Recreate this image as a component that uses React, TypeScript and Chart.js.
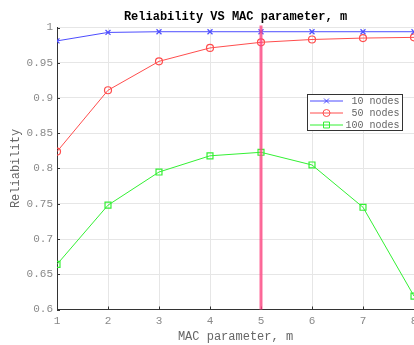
import React, { useEffect, useRef } from "react";
import { Chart, registerables } from "chart.js";

Chart.register(...registerables);

const mValues = [1, 2, 3, 4, 5, 6, 7, 8];
const nodes10 = [0.981, 0.993, 0.994, 0.994, 0.994, 0.994, 0.994, 0.994];
const nodes50 = [0.824, 0.911, 0.952, 0.971, 0.979, 0.983, 0.985, 0.986];
const nodes100 = [0.664, 0.748, 0.795, 0.818, 0.823, 0.805, 0.745, 0.619];
const seriesLabels = ["10 nodes", "50 nodes", "100 nodes"];
const markerM = 5;
const titleText = "Reliability VS MAC parameter, m";
const xTitle = "MAC parameter, m";
const yTitle = "Reliability";

const FONT = "'Liberation Mono', 'DejaVu Sans Mono', monospace";

function drawMarker(ctx: CanvasRenderingContext2D, style: string, r: number, x: number, y: number, color: string) {
  ctx.strokeStyle = color;
  ctx.beginPath();
  if (style === "crossRot") {
    const o = r * Math.SQRT1_2;
    ctx.moveTo(x - o, y - o);
    ctx.lineTo(x + o, y + o);
    ctx.moveTo(x - o, y + o);
    ctx.lineTo(x + o, y - o);
  } else if (style === "circle") {
    ctx.arc(x, y, r, 0, Math.PI * 2);
  } else {
    const s = r * Math.SQRT1_2;
    ctx.rect(x - s, y - s, 2 * s, 2 * s);
  }
  ctx.stroke();
}

const extrasPlugin = {
  id: "extras",
  afterDatasetsDraw(chart: any) {
    const { ctx, chartArea, scales } = chart;
    const xs = scales.x;
    const ys = scales.y;
    ctx.save();
    // inward ticks
    ctx.strokeStyle = "#333";
    ctx.lineWidth = 1;
    ctx.beginPath();
    xs.ticks.forEach((t: any) => {
      const px = Math.round(xs.getPixelForValue(t.value)) + 0.5;
      ctx.moveTo(px, chartArea.bottom);
      ctx.lineTo(px, chartArea.bottom - 3);
    });
    ys.ticks.forEach((t: any) => {
      const py = Math.round(ys.getPixelForValue(t.value)) + 0.5;
      ctx.moveTo(chartArea.left, py);
      ctx.lineTo(chartArea.left + 3, py);
    });
    ctx.stroke();
    // vertical marker line
    const mx = xs.getPixelForValue(markerM);
    ctx.strokeStyle = "rgba(255, 70, 130, 0.8)";
    ctx.lineWidth = 3;
    ctx.beginPath();
    ctx.moveTo(mx, chartArea.top - 2);
    ctx.lineTo(mx, chartArea.bottom);
    ctx.stroke();
    ctx.restore();
  },
  afterDraw(chart: any) {
    const { ctx, chartArea } = chart;
    ctx.save();
    // title centred over the plot area
    ctx.fillStyle = "#000";
    ctx.font = `bold 12px ${FONT}`;
    ctx.textAlign = "center";
    ctx.textBaseline = "middle";
    ctx.fillText(titleText, (chartArea.left + chartArea.right) / 2, 17);
    // legend
    const boxL = 307, boxT = 94, boxW = 95, boxH = 36;
    ctx.fillStyle = "#fff";
    ctx.fillRect(boxL, boxT, boxW, boxH);
    ctx.strokeStyle = "#333";
    ctx.lineWidth = 1;
    ctx.strokeRect(boxL + 0.5, boxT + 0.5, boxW, boxH);
    chart.data.datasets.forEach((ds: any, i: number) => {
      const y = boxT + 7 + i * 12;
      ctx.strokeStyle = ds.borderColor;
      ctx.lineWidth = 1;
      ctx.beginPath();
      ctx.moveTo(310, y);
      ctx.lineTo(343, y);
      ctx.stroke();
      drawMarker(ctx, ds.pointStyle, ds.pointRadius, 326.5, y, ds.borderColor);
      ctx.fillStyle = "#666";
      ctx.font = `10px ${FONT}`;
      ctx.textAlign = "right";
      ctx.textBaseline = "middle";
      ctx.fillText(ds.label, 399.5, y);
    });
    ctx.restore();
  },
};

export default function App() {
  const ref = useRef<HTMLCanvasElement | null>(null);
  useEffect(() => {
    if (!ref.current) return;
    const mk = (vals: number[]) => mValues.map((m, i) => ({ x: m, y: vals[i] }));
    const chart = new Chart(ref.current, {
      type: "line",
      data: {
        datasets: [
          {
            label: seriesLabels[0],
            data: mk(nodes10),
            borderColor: "#4d4dff",
            backgroundColor: "transparent",
            borderWidth: 1,
            pointStyle: "crossRot",
            pointRadius: 3.5,
            pointBorderWidth: 1.2,
          },
          {
            label: seriesLabels[1],
            data: mk(nodes50),
            borderColor: "#ff4d4d",
            backgroundColor: "transparent",
            borderWidth: 1,
            pointStyle: "circle",
            pointRadius: 3.5,
            pointBorderWidth: 1.2,
          },
          {
            label: seriesLabels[2],
            data: mk(nodes100),
            borderColor: "#33f033",
            backgroundColor: "transparent",
            borderWidth: 1,
            pointStyle: "rect",
            pointRadius: 4.2,
            pointBorderWidth: 1.2,
          },
        ] as any,
      },
      options: {
        animation: false,
        responsive: false,
        maintainAspectRatio: false,
        layout: { padding: { left: 0, right: 16, top: 27.5, bottom: 0 } },
        plugins: {
          legend: { display: false },
          tooltip: { enabled: false },
          title: { display: false },
        },
        scales: {
          x: {
            type: "linear",
            min: 1,
            max: 8,
            ticks: {
              stepSize: 1,
              color: "#8a8a8a",
              font: { family: FONT, size: 11 },
              padding: 5,
              maxRotation: 0,
            },
            grid: { color: "#e6e6e6", drawTicks: false },
            border: { color: "#333", width: 1 },
            title: {
              display: true,
              text: xTitle,
              color: "#666",
              font: { family: FONT, size: 12 },
              padding: { top: 0, bottom: 1 },
            },
            afterFit: (s: any) => {
              s.height = 35.5;
            },
          },
          y: {
            min: 0.6,
            max: 1,
            ticks: {
              stepSize: 0.05,
              color: "#8a8a8a",
              font: { family: FONT, size: 11 },
              padding: 4,
              callback: (v: any) => String(Number(Number(v).toFixed(2))),
            },
            grid: { color: "#e6e6e6", drawTicks: false },
            border: { color: "#333", width: 1 },
            title: {
              display: true,
              text: yTitle,
              color: "#666",
              font: { family: FONT, size: 12 },
              padding: { top: 8.5, bottom: 0 },
            },
            afterFit: (s: any) => {
              s.width = 57;
            },
          },
        },
      },
      plugins: [extrasPlugin],
    });
    return () => chart.destroy();
  }, []);
  return (
    <div
      style={{
        position: "fixed",
        left: 0,
        top: 0,
        width: 414,
        height: 345,
        overflow: "hidden",
        background: "#fff",
      }}
    >
      <canvas ref={ref} width={430} height={345} style={{ display: "block" }} />
    </div>
  );
}
